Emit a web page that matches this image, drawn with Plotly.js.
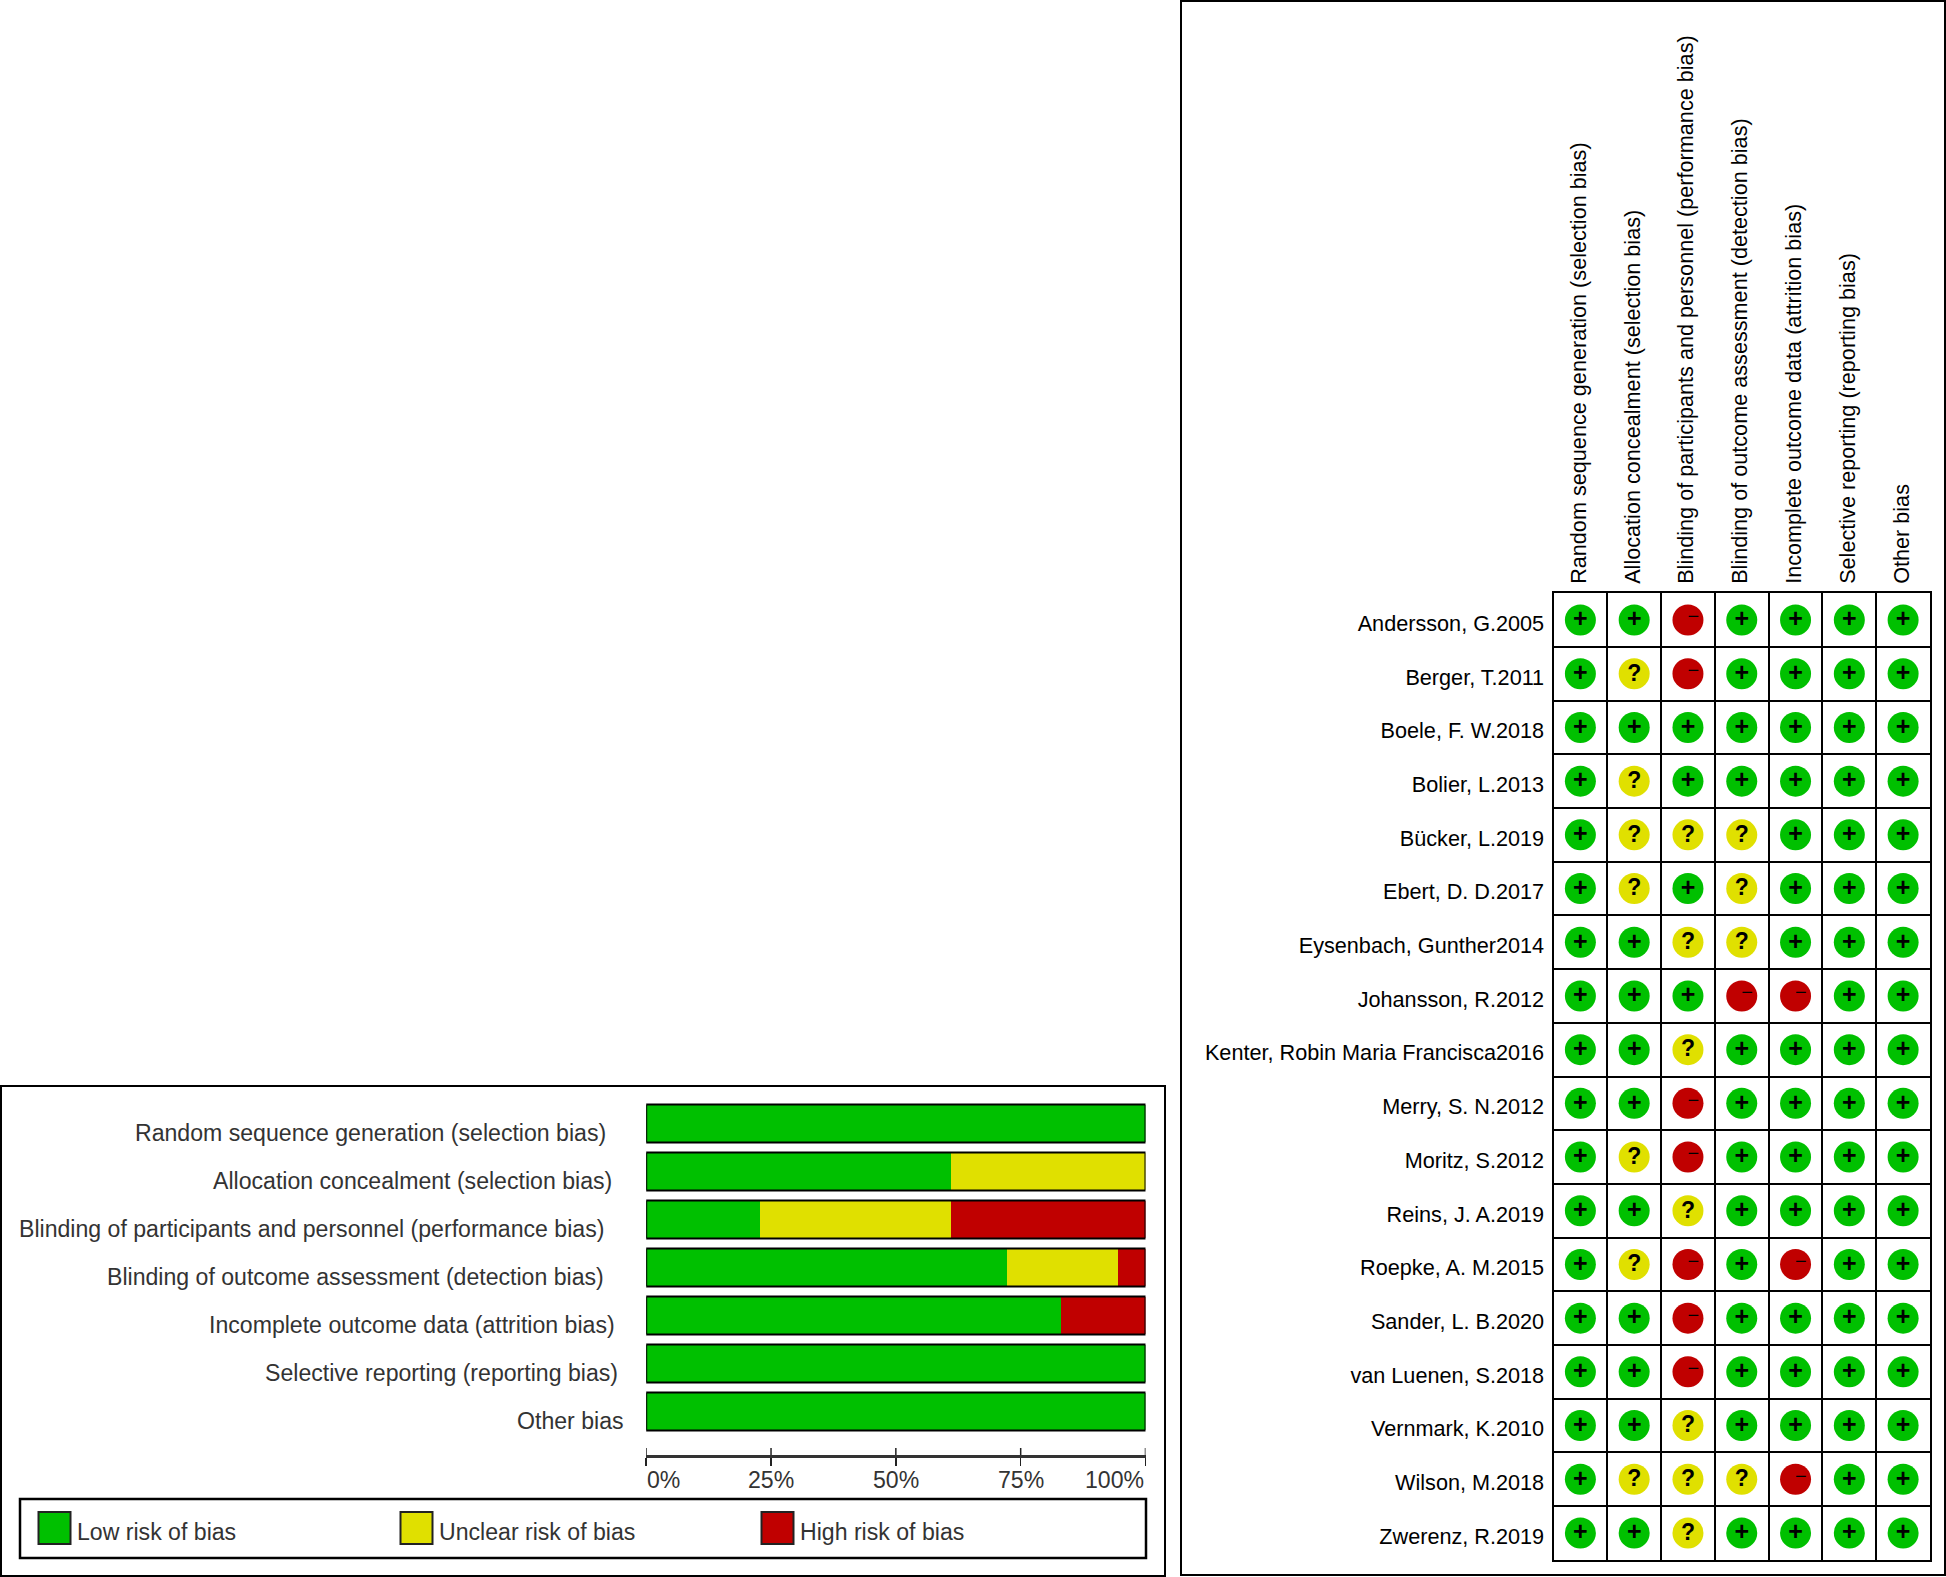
<!DOCTYPE html>
<html>
<head>
<meta charset="utf-8">
<script src="https://cdn.plot.ly/plotly-3.0.1.min.js"></script>
<style>html,body{margin:0;padding:0;background:#fff}</style>
</head>
<body>
<div id="chart" style="width:1946px;height:1577px"></div>
<script>
// ---- data ----
const domains = [
  "Random sequence generation (selection bias)",
  "Allocation concealment (selection bias)",
  "Blinding of participants and personnel (performance bias)",
  "Blinding of outcome assessment (detection bias)",
  "Incomplete outcome data (attrition bias)",
  "Selective reporting (reporting bias)",
  "Other bias"
];
const lowRisk     = [100, 61.1, 22.7, 72.2, 83.1, 100, 100];
const unclearRisk = [0, 38.9, 38.4, 22.2, 0, 0, 0];
const highRisk    = [0, 0, 38.9, 5.6, 16.9, 0, 0];
const percentTicks = [0, 25, 50, 75, 100];
const percentLabels = ["0%", "25%", "50%", "75%", "100%"];
const legendLabels = ["Low risk of bias", "Unclear risk of bias", "High risk of bias"];
const studies = [
  "Andersson, G.2005", "Berger, T.2011", "Boele, F. W.2018", "Bolier, L.2013",
  "Bücker, L.2019", "Ebert, D. D.2017", "Eysenbach, Gunther2014", "Johansson, R.2012",
  "Kenter, Robin Maria Francisca2016", "Merry, S. N.2012", "Moritz, S.2012", "Reins, J. A.2019",
  "Roepke, A. M.2015", "Sander, L. B.2020", "van Luenen, S.2018", "Vernmark, K.2010",
  "Wilson, M.2018", "Zwerenz, R.2019"
];
const judgements = [
  "++-++++", "+?-++++", "+++++++", "+?+++++", "+???+++", "+?+?+++",
  "++??+++", "+++--++", "++?++++", "++-++++", "+?-++++", "++?++++",
  "+?-+-++", "++-++++", "++-++++", "++?++++", "+???-++", "++?++++"
];

// ---- style ----
const W = 1946, H = 1577;
const GREEN = "#00C000", YELLOW = "#E0E000", RED = "#C00000";
const FONT = "Liberation Sans, Arial, sans-serif";
const px = v => v / W, py = v => 1 - v / H;
// the reference's left labels are not flush: right-edge gap to the plot, per label
const labelGap = [38, 32, 40, 40, 29, 26, 20];
const legendSwatchLeft = [38.5, 400.5, 761.5];

// ---- traces ----
const barTrace = (vals, color) => ({
  type: "bar", orientation: "h", x: vals, y: domains.map((_, i) => i),
  width: 0.79, marker: {color, line: {width: 0}}, xaxis: "x", yaxis: "y",
  showlegend: false, hoverinfo: "skip"
});
const cells = {x: [], y: [], c: [], t: [], g: []};
const style = {"+": [GREEN, "+"], "?": [YELLOW, "?"], "-": [RED, "−"]};
judgements.forEach((row, r) => [...row].forEach((j, c) => {
  cells.x.push(c + 0.5); cells.y.push(r + 0.5);
  cells.c.push(style[j][0]); cells.g.push(j);
}));
const glyphTrace = (key, dx, dy, size, family) => ({
  type: "scatter", mode: "text", xaxis: "x2", yaxis: "y2",
  x: cells.x.filter((_, i) => cells.g[i] === key).map(v => v + dx),
  y: cells.y.filter((_, i) => cells.g[i] === key).map(v => v + dy),
  text: cells.g.filter(g => g === key).map(g => style[g][1]),
  textposition: "middle center",
  textfont: {family, size, color: "#000", weight: key === "-" ? 400 : 700},
  showlegend: false, hoverinfo: "skip"
});
const traces = [
  barTrace(lowRisk, GREEN), barTrace(unclearRisk, YELLOW), barTrace(highRisk, RED),
  {type: "scatter", mode: "markers", xaxis: "x2", yaxis: "y2", x: cells.x, y: cells.y,
   marker: {size: 31, color: cells.c, line: {width: 0}}, showlegend: false, hoverinfo: "skip"},
  glyphTrace("+", 0, 0.02, 25, FONT),
  glyphTrace("?", 0, 0.02, 23, FONT),
  glyphTrace("-", 0.1, -0.03, 20, FONT)
];

// ---- shapes & annotations ----
const rect = (x0, y0, x1, y1, w, color) => ({
  type: "rect", xref: "paper", yref: "paper",
  x0: px(x0), x1: px(x1), y0: py(y1), y1: py(y0),
  line: {color: color || "#000", width: w}, fillcolor: "rgba(0,0,0,0)", layer: "above"
});
const shapes = [
  rect(1, 1086, 1165, 1576, 2),
  rect(1181, 1, 1945, 1575, 2),
  rect(20, 1499, 1146, 1558, 2.5)
];
domains.forEach((_, i) => shapes.push({
  type: "rect", xref: "x", yref: "y", x0: 0, x1: 100, y0: i - 0.395, y1: i + 0.395,
  line: {color: "#000", width: 2}, fillcolor: "rgba(0,0,0,0)", layer: "above"
}));
percentTicks.forEach(t => shapes.push({
  type: "line", xref: "x", yref: "paper", x0: t, x1: t, y0: py(1455), y1: py(1448),
  line: {color: "#222", width: 1.5}, layer: "above"
}));
[GREEN, YELLOW, RED].forEach((c, i) => shapes.push({
  type: "rect", xref: "paper", yref: "paper",
  x0: px(legendSwatchLeft[i]), x1: px(legendSwatchLeft[i] + 32), y0: py(1544), y1: py(1512),
  line: {color: "#222", width: 2}, fillcolor: c, layer: "above"
}));

const annotations = [];
domains.forEach((d, i) => annotations.push({
  text: d, xref: "x", yref: "y", x: 0, y: i, xanchor: "right", yanchor: "middle",
  xshift: -labelGap[i], yshift: -9, showarrow: false,
  font: {family: FONT, size: 23.1, color: "#333"}
}));
percentTicks.forEach((t, i) => annotations.push({
  text: percentLabels[i], xref: "x", yref: "paper", x: t, y: py(1480),
  xanchor: i === 0 ? "left" : i === percentTicks.length - 1 ? "right" : "center",
  yanchor: "middle", showarrow: false, xshift: i === 0 ? -1 : 0,
  font: {family: FONT, size: 23.1, color: "#333"}
}));
legendLabels.forEach((l, i) => annotations.push({
  text: l, xref: "paper", yref: "paper", x: px(legendSwatchLeft[i] + 36.5), y: py(1532),
  xanchor: "left", yanchor: "middle", showarrow: false,
  font: {family: FONT, size: 23.1, color: "#333"}
}));

// ---- layout ----
const layout = {
  width: W, height: H, margin: {l: 0, r: 0, t: 0, b: 0},
  paper_bgcolor: "#fff", plot_bgcolor: "rgba(0,0,0,0)",
  font: {family: FONT}, barmode: "stack", showlegend: false, bargap: 0,
  xaxis: {
    domain: [px(646.2), px(1145.5)], range: [0, 100], anchor: "y",
    tickmode: "array", tickvals: percentTicks, showticklabels: false,
    ticks: "outside", ticklen: 8, tickwidth: 1.5, tickcolor: "#222",
    showgrid: false, zeroline: false, showline: true, linecolor: "#333", linewidth: 2.5
  },
  yaxis: {
    domain: [py(1455), py(1099.5)], range: [6.906, -0.5], anchor: "x",
    showticklabels: false, ticks: "", showgrid: false, zeroline: false, showline: false
  },
  xaxis2: {
    domain: [px(1553.5), px(1930)], range: [0, 7], anchor: "y2", side: "top",
    tickmode: "array", tickvals: domains.map((_, i) => i + 0.47), ticktext: domains,
    tickangle: -90, ticks: "", ticklabelstandoff: 3,
    tickfont: {family: FONT, size: 21.65, color: "#000"},
    showgrid: false, zeroline: false, showline: true, mirror: true, linecolor: "#000", linewidth: 2,
    minor: {tick0: 0, dtick: 1, showgrid: true, gridcolor: "#000", gridwidth: 2, ticks: ""}
  },
  yaxis2: {
    domain: [py(1559.8), py(593.2)], range: [18, 0], anchor: "x2",
    tickmode: "array", tickvals: studies.map((_, i) => i + 0.56), ticktext: studies,
    ticks: "", ticklabelstandoff: 3,
    tickfont: {family: FONT, size: 21.65, color: "#000"},
    showgrid: false, zeroline: false, showline: true, mirror: true, linecolor: "#000", linewidth: 2,
    minor: {tick0: 0, dtick: 1, showgrid: true, gridcolor: "#000", gridwidth: 2, ticks: ""}
  },
  shapes, annotations
};
Plotly.newPlot("chart", traces, layout, {displayModeBar: false, staticPlot: true});
</script>
</body>
</html>
